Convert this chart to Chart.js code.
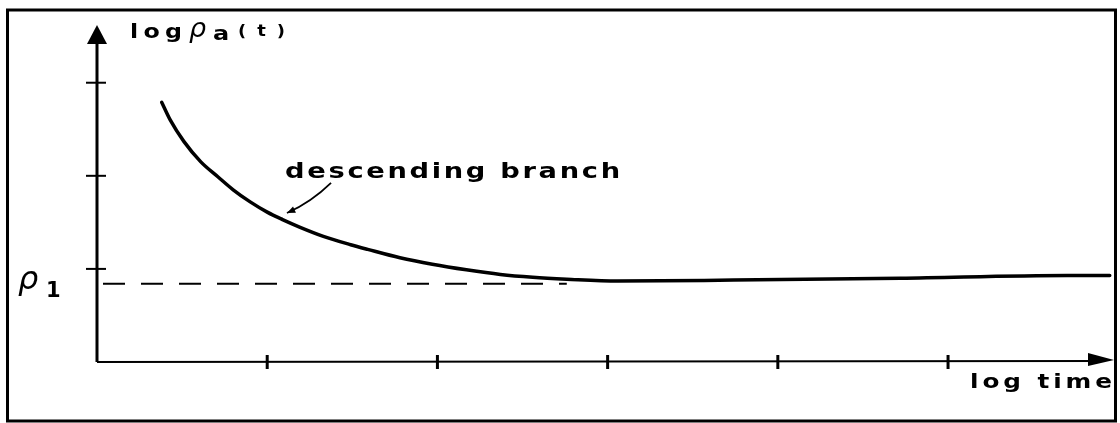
<!DOCTYPE html>
<html>
<head>
<meta charset="utf-8">
<script src="https://cdn.jsdelivr.net/npm/chart.js@4"></script>
<style>
  html, body { margin: 0; padding: 0; background: #fff; }
  #wrap { width: 1120px; height: 423px; }
</style>
</head>
<body>
<div id="wrap"><canvas id="chart" width="1120" height="423"></canvas></div>
<script>
// ===============================
// DATA (x = log time, y = log rho_a)
// ===============================
const curveX = [0.38, 0.43, 0.51, 0.61, 0.71, 0.80, 0.90, 1.00, 1.09, 1.19, 1.33, 1.49, 1.59, 1.78, 1.97, 2.17, 2.37, 2.56, 2.76, 3.06, 3.74, 4.72, 5.70, 5.95];
const curveY = [2.79, 2.60, 2.37, 2.15, 1.99, 1.85, 1.72, 1.61, 1.53, 1.45, 1.35, 1.26, 1.21, 1.12, 1.05, 0.99, 0.94, 0.91, 0.89, 0.87, 0.88, 0.90, 0.93, 0.93];

const rho1 = 0.84;          // level of rho_1
const dashX = [0, 2.76];    // dashed reference line extent

const xTicks = [1, 2, 3, 4, 5];
const yTicks = [1, 2, 3];
const xMax = 5.975;
const yMax = 3.62;

const yTitle = ["log", "ρ", "a", "(t)"];
const xTitle = "log time";
const rhoLabel = ["ρ", "1"];
const branchLabel = "descending branch";
const branchAt = [1.105, 1.98];
const pointerFrom = [1.375, 1.925];
const pointerCtrl = [1.26, 1.72];
const pointerTo = [1.116, 1.60];

// ===============================
// HELPERS
// ===============================
// wide typewriter-ish lettering: stretch glyphs, then spread to fit width
function spacedText(ctx, text, x, y, width, sx){
  sx = sx || 1;
  ctx.save();
  ctx.translate(x, y);
  ctx.scale(sx, 1);
  ctx.letterSpacing = "0px";
  let w = ctx.measureText(text).width;
  let sp = (width / sx - w) / (text.length - 1);
  ctx.letterSpacing = Math.max(sp, 0) + "px";
  ctx.fillText(text, 0, 0);
  ctx.restore();
}

// ===============================
// AXES + LABELS PLUGIN
// ===============================
const sketchAxes = {
  id: "sketchAxes",
  beforeDatasetsDraw(chart){
    const ctx = chart.ctx;
    const xs = chart.scales.x, ys = chart.scales.y;
    const x0 = xs.getPixelForValue(0), y0 = ys.getPixelForValue(0);
    const xEnd = xs.getPixelForValue(xMax), yEnd = ys.getPixelForValue(yMax);

    ctx.save();
    ctx.strokeStyle = "#000";
    ctx.fillStyle = "#000";

    // frame
    ctx.lineWidth = 3;
    ctx.strokeRect(7.5, 10, 1108, 411);

    // y axis
    ctx.lineWidth = 3;
    ctx.beginPath();
    ctx.moveTo(x0, y0);
    ctx.lineTo(x0, yEnd + 12);
    ctx.stroke();
    ctx.beginPath();
    ctx.moveTo(x0, yEnd);
    ctx.lineTo(x0 - 10, yEnd + 19);
    ctx.lineTo(x0 + 10, yEnd + 19);
    ctx.closePath();
    ctx.fill();

    // x axis
    ctx.lineWidth = 2;
    ctx.beginPath();
    ctx.moveTo(x0, y0);
    ctx.lineTo(xEnd - 15, y0 - 1);
    ctx.stroke();
    ctx.beginPath();
    ctx.moveTo(xEnd, y0 - 2);
    ctx.lineTo(xEnd - 26, y0 - 9);
    ctx.lineTo(xEnd - 26, y0 + 4);
    ctx.closePath();
    ctx.fill();

    // ticks
    ctx.lineWidth = 3;
    xTicks.forEach(v => {
      let px = xs.getPixelForValue(v);
      ctx.beginPath();
      ctx.moveTo(px, y0 - 7);
      ctx.lineTo(px, y0 + 7);
      ctx.stroke();
    });
    ctx.lineWidth = 2;
    yTicks.forEach(v => {
      let py = ys.getPixelForValue(v);
      ctx.beginPath();
      ctx.moveTo(x0 - 11, py);
      ctx.lineTo(x0 + 9, py);
      ctx.stroke();
    });

    // y title: log rho_a(t)
    ctx.textBaseline = "alphabetic";
    ctx.font = 'bold 19px "DejaVu Sans"';
    spacedText(ctx, yTitle[0], x0 + 33, 38, 52, 1.25);
    ctx.font = 'italic 27px "DejaVu Sans"';
    ctx.fillText(yTitle[1], x0 + 92, 37);
    ctx.font = 'bold 20px "DejaVu Sans"';
    spacedText(ctx, yTitle[2], x0 + 116, 40, 20, 1.2);
    ctx.font = 'bold 15px "DejaVu Sans"';
    spacedText(ctx, yTitle[3], x0 + 141, 36, 47, 1.2);

    // x title
    ctx.font = 'bold 19px "DejaVu Sans"';
    spacedText(ctx, xTitle, xEnd - 144, y0 + 26, 142, 1.3);

    // rho_1
    let py1 = ys.getPixelForValue(rho1);
    ctx.font = 'italic 32px "DejaVu Sans"';
    ctx.fillText(rhoLabel[0], 18, py1 + 5);
    ctx.font = 'bold 21px "DejaVu Sans"';
    ctx.fillText(rhoLabel[1], 46, py1 + 13);

    // descending branch label + pointer
    ctx.font = 'bold 21px "DejaVu Sans"';
    spacedText(ctx, branchLabel, xs.getPixelForValue(branchAt[0]), ys.getPixelForValue(branchAt[1]), 335, 1.3);

    let fx = xs.getPixelForValue(pointerFrom[0]), fy = ys.getPixelForValue(pointerFrom[1]);
    let cx = xs.getPixelForValue(pointerCtrl[0]), cy = ys.getPixelForValue(pointerCtrl[1]);
    let tx = xs.getPixelForValue(pointerTo[0]), ty = ys.getPixelForValue(pointerTo[1]);
    ctx.lineWidth = 1.8;
    ctx.beginPath();
    ctx.moveTo(fx, fy);
    ctx.quadraticCurveTo(cx, cy, tx, ty);
    ctx.stroke();
    let ang = Math.atan2(ty - cy, tx - cx);
    ctx.beginPath();
    ctx.moveTo(tx, ty);
    ctx.lineTo(tx - 9 * Math.cos(ang - 0.4), ty - 9 * Math.sin(ang - 0.4));
    ctx.lineTo(tx - 9 * Math.cos(ang + 0.4), ty - 9 * Math.sin(ang + 0.4));
    ctx.closePath();
    ctx.fill();

    ctx.restore();
  }
};

// ===============================
// CHART
// ===============================
let ctx = document.getElementById("chart").getContext("2d");

new Chart(ctx, {
  type: "line",
  data: {
    datasets: [
      {
        label: "rho1",
        data: dashX.map(x => ({ x: x, y: rho1 })),
        borderColor: "#000",
        borderWidth: 2,
        borderDash: [22, 16],
        borderDashOffset: 32,
        pointRadius: 0
      },
      {
        label: "descending branch",
        data: curveX.map((x, i) => ({ x: x, y: curveY[i] })),
        borderColor: "#000",
        borderWidth: 3.5,
        borderCapStyle: "round",
        cubicInterpolationMode: "monotone",
        pointRadius: 0
      }
    ]
  },
  options: {
    responsive: false,
    animation: false,
    layout: { padding: { left: 97, right: 6, top: 25, bottom: 61 } },
    plugins: { legend: { display: false }, tooltip: { enabled: false } },
    scales: {
      x: { type: "linear", min: 0, max: xMax, display: false },
      y: { type: "linear", min: 0, max: yMax, display: false }
    }
  },
  plugins: [sketchAxes]
});
</script>
</body>
</html>
